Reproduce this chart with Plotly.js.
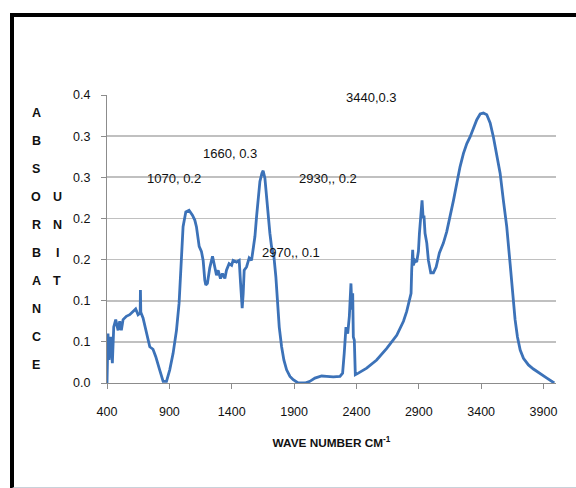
<!DOCTYPE html>
<html>
<head>
<meta charset="utf-8">
<script src="https://cdn.plot.ly/plotly-3.0.1.min.js"></script>
<style>
  html, body { margin: 0; padding: 0; background: #ffffff; }
  #frame { position: absolute; left: 10px; top: 13px; width: 580px; height: 470px;
           border-left: 4px solid #000; border-top: 4px solid #000; border-bottom: 2px solid #c9d1d9; }
  #chart { position: absolute; left: 0; top: 0; width: 576px; height: 488px; }
</style>
</head>
<body>
<div id="frame"></div>
<div id="chart"></div>
<script>
// Wave number (cm-1) and absorbance
const waveNumber = [
  400, 408, 416, 430, 443, 454, 470, 489, 502, 515, 529, 555, 582, 609, 630, 649, 666, 668, 671, 689,
  716, 743, 769, 791, 818, 850, 877, 903, 930, 957, 978, 997, 1010, 1032, 1058, 1085, 1104, 1117, 1139, 1157,
  1171, 1184, 1192, 1205, 1224, 1246, 1265, 1278, 1291, 1310, 1326, 1345, 1358, 1379, 1399, 1411, 1439, 1460, 1471, 1484,
  1492, 1500, 1519, 1540, 1559, 1572, 1586, 1599, 1612, 1626, 1642, 1652, 1666, 1679, 1692, 1706, 1719, 1738, 1754, 1765,
  1781, 1800, 1818, 1840, 1867, 1893, 1933, 1987, 2027, 2067, 2121, 2161, 2214, 2268, 2289, 2302, 2316, 2330, 2343, 2356,
  2364, 2370, 2375, 2383, 2391, 2415, 2482, 2562, 2643, 2723, 2777, 2803, 2824, 2838, 2843, 2851, 2856, 2870, 2883, 2897,
  2905, 2916, 2926, 2934, 2942, 2950, 2964, 2977, 2996, 3017, 3039, 3065, 3097, 3124, 3151, 3178, 3205, 3231, 3258, 3285,
  3311, 3338, 3365, 3392, 3418, 3445, 3472, 3498, 3525, 3552, 3578, 3605, 3632, 3654, 3672, 3691, 3713, 3739, 3779, 3819,
  3873, 3927, 3986
];
const absorbance = [
  0.000, 0.060, 0.028, 0.056, 0.024, 0.068, 0.077, 0.064, 0.075, 0.064, 0.077, 0.081, 0.083, 0.087, 0.090, 0.083, 0.085, 0.113, 0.086, 0.079,
  0.060, 0.044, 0.041, 0.032, 0.018, 0.002, 0.002, 0.016, 0.036, 0.064, 0.097, 0.154, 0.190, 0.208, 0.210, 0.204, 0.198, 0.190, 0.166, 0.160,
  0.149, 0.125, 0.119, 0.121, 0.140, 0.154, 0.141, 0.131, 0.137, 0.127, 0.133, 0.127, 0.137, 0.145, 0.143, 0.149, 0.147, 0.149, 0.121, 0.091,
  0.109, 0.137, 0.141, 0.152, 0.149, 0.162, 0.178, 0.202, 0.226, 0.245, 0.255, 0.258, 0.249, 0.226, 0.202, 0.182, 0.166, 0.154, 0.129, 0.097,
  0.068, 0.044, 0.028, 0.016, 0.008, 0.004, 0.000, 0.000, 0.002, 0.006, 0.0085, 0.008, 0.0075, 0.008, 0.012, 0.036, 0.068, 0.060, 0.081, 0.121,
  0.089, 0.109, 0.056, 0.052, 0.010, 0.012, 0.018, 0.028, 0.042, 0.058, 0.075, 0.087, 0.100, 0.109, 0.137, 0.162, 0.143, 0.149, 0.147, 0.160,
  0.182, 0.202, 0.222, 0.202, 0.202, 0.182, 0.170, 0.149, 0.134, 0.134, 0.141, 0.158, 0.170, 0.184, 0.202, 0.222, 0.243, 0.263, 0.279, 0.291,
  0.299, 0.310, 0.320, 0.327, 0.328, 0.326, 0.316, 0.299, 0.279, 0.255, 0.222, 0.190, 0.145, 0.105, 0.077, 0.056, 0.040, 0.030, 0.022, 0.017,
  0.011, 0.006, 0.000
];

const xTickVals = [400, 900, 1400, 1900, 2400, 2900, 3400, 3900];
const yTickVals = [0, 0.05, 0.10, 0.15, 0.20, 0.25, 0.30, 0.35];
const yTickText = ["0.0", "0.1", "0.1", "0.2", "0.2", "0.3", "0.3", "0.4"];

const peakLabels = ["3440,0.3", "1660, 0.3", "1070, 0.2", "2930,, 0.2", "2970,, 0.1"];
const yTitleMain = "ABSORBANCE";
const yTitleUnit = "UNIT";
const xTitle = "WAVE NUMBER CM<sup>-1</sup>";

// plot area in pixels: left 107, right 556, top 95, bottom 383
const PL = 107, PR = 556, PT = 95, PB = 383;
const px2paperX = px => (px - PL) / (PR - PL);
const py2paperY = py => (PB - py) / (PB - PT);

const labelPos = [[371, 97], [230, 153], [173.5, 178], [328, 178], [290.5, 252]];

const textFont = { family: "Liberation Sans, Arial, sans-serif", size: 13, color: "#111111" };
const annotations = peakLabels.map((t, i) => ({
  text: t, xref: "paper", yref: "paper",
  x: px2paperX(labelPos[i][0]), y: py2paperY(labelPos[i][1]),
  xanchor: "center", yanchor: "middle", showarrow: false, font: textFont
}));

const letterFont = { family: "Liberation Sans, Arial, sans-serif", size: 12.5, color: "#111111", weight: "bold" };
yTitleMain.split("").forEach((ch, i) => {
  annotations.push({ text: ch, xref: "paper", yref: "paper",
    x: px2paperX(36), y: py2paperY(113 + i * 28),
    xanchor: "center", yanchor: "middle", showarrow: false, font: letterFont });
});
yTitleUnit.split("").forEach((ch, i) => {
  annotations.push({ text: ch, xref: "paper", yref: "paper",
    x: px2paperX(57), y: py2paperY(197 + i * 28),
    xanchor: "center", yanchor: "middle", showarrow: false, font: letterFont });
});

const trace = {
  x: waveNumber, y: absorbance, type: "scatter", mode: "lines",
  line: { color: "#3c72b8", width: 2.8 }, hoverinfo: "x+y"
};

const tickFont = { family: "Liberation Sans, Arial, sans-serif", size: 12.5, color: "#111111" };

const layout = {
  width: 576, height: 488,
  margin: { l: PL, r: 576 - PR, t: PT, b: 488 - PB },
  paper_bgcolor: "rgba(0,0,0,0)", plot_bgcolor: "rgba(0,0,0,0)",
  showlegend: false,
  xaxis: {
    range: [400, 4000], tickvals: xTickVals, ticktext: xTickVals.map(String),
    showgrid: false, zeroline: false, showline: true, linecolor: "#8c8c8c", linewidth: 1,
    ticks: "outside", ticklen: 5, tickcolor: "#8c8c8c", tickfont: tickFont,
    ticklabelstandoff: 12,
    title: { text: xTitle, font: { family: "Liberation Sans, Arial, sans-serif", size: 11.8, color: "#111111", weight: "bold" }, standoff: 20 }
  },
  yaxis: {
    range: [0, 0.35], tickvals: yTickVals, ticktext: yTickText,
    showgrid: true, gridcolor: "#c0c0c0", gridwidth: 1.6, zeroline: false,
    showline: true, linecolor: "#8c8c8c", linewidth: 1,
    ticks: "outside", ticklen: 5, tickcolor: "#8c8c8c", tickfont: tickFont,
    ticklabelstandoff: 8
  },
  annotations: annotations
};

Plotly.newPlot("chart", [trace], layout, { staticPlot: true, displayModeBar: false });
</script>
</body>
</html>
